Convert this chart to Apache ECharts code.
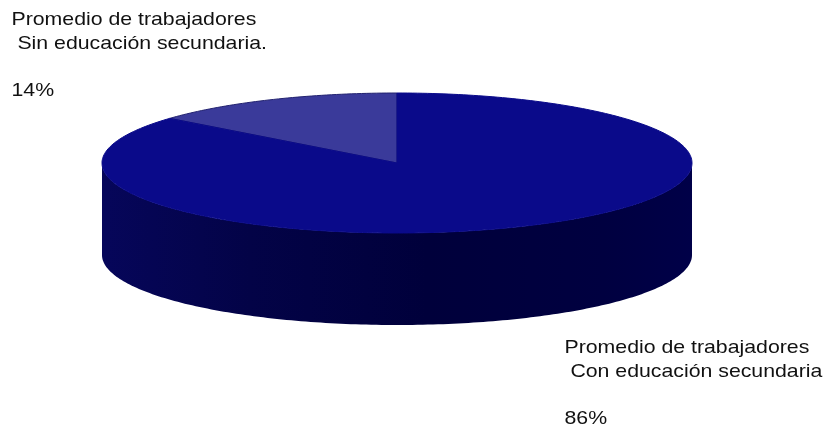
<!DOCTYPE html>
<html><head><meta charset="utf-8">
<script src="https://cdn.jsdelivr.net/npm/echarts@6/dist/echarts.min.js"></script>
<style>html,body{margin:0;padding:0;background:#fff}#c{width:825px;height:432px}</style>
</head><body><div id="c"></div>
<script>
// ---- data ----
const categories = ['Promedio de trabajadores\n Sin educación secundaria.', 'Promedio de trabajadores\n Con educación secundaria'];
const values = [14, 86];

// ---- styles ----
const topColors = ['#3a3a9a', '#0a0a8a'];
const labelPos = [[11.5, 8.5], [564.5, 336.5]];
const geo = { cx: 397, cy: 163, rx: 295, ry: 70, depth: 92, start: 90 };

const total = values.reduce((a, b) => a + b, 0);
const starts = [];
let acc = 0;
values.forEach(v => { starts.push(acc); acc += v; });

function pt(tDeg, dy) {
  const t = tDeg * Math.PI / 180;
  return [geo.cx + geo.rx * Math.cos(t), geo.cy - geo.ry * Math.sin(t) + dy];
}
function arc(a, b, dy) {
  const pts = [];
  const n = Math.max(2, Math.ceil(Math.abs(b - a)));
  for (let k = 0; k <= n; k++) pts.push(pt(a + (b - a) * k / n, dy));
  return pts;
}

function renderItem(params, api) {
  const i = params.dataIndex;
  const v = api.value(0);
  const a = geo.start + starts[i] / total * 360;
  const b = a + v / total * 360;
  const children = [];
  // visible front walls: param angles in [180,360] (+k*360)
  for (let k = -1; k <= 2; k++) {
    const lo = Math.max(a, 180 + 360 * k), hi = Math.min(b, 360 + 360 * k);
    if (hi > lo) {
      const topArc = arc(lo, hi, 0);
      const botArc = arc(hi, lo, geo.depth);
      children.push({
        type: 'polygon',
        shape: { points: topArc.concat(botArc) },
        style: {
          fill: {
            type: 'linear', x: 0, y: 0, x2: 1, y2: 0,
            colorStops: [
              { offset: 0, color: '#06065a' },
              { offset: 0.25, color: '#030347' },
              { offset: 0.55, color: '#00003b' },
              { offset: 0.85, color: '#000040' },
              { offset: 1, color: '#000048' }
            ]
          }
        }
      });
    }
  }
  children.push({
    type: 'polygon',
    shape: { points: [[geo.cx, geo.cy]].concat(arc(a, b, 0)) },
    style: { fill: topColors[i], stroke: i === 0 ? '#222270' : topColors[i], lineWidth: 1 }
  });
  return { type: 'group', children: children };
}

const chart = echarts.init(document.getElementById('c'), null, { renderer: 'canvas' });
chart.setOption({
  backgroundColor: '#ffffff',
  animation: false,
  series: [{
    type: 'custom',
    coordinateSystem: 'none',
    renderItem: renderItem,
    data: values.map(v => [v])
  }],
  graphic: categories.map((c, i) => ({
    type: 'text',
    x: labelPos[i][0],
    y: labelPos[i][1],
    scaleX: 1.15,
    style: {
      text: c + '\n\n' + values[i] + '%',
      fill: '#111111',
      fontSize: 18.5,
      fontFamily: '"Liberation Sans", Arial, sans-serif',
      lineHeight: 23.5,
      verticalAlign: 'top',
      align: 'left'
    }
  }))
});
</script></body></html>
